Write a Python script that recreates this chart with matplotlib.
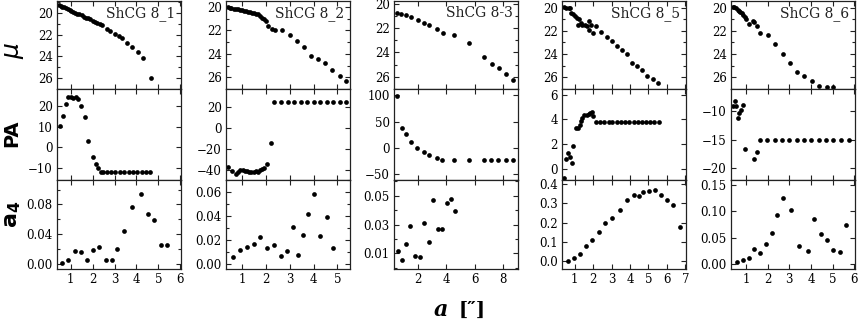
import matplotlib
matplotlib.use('Agg')
import matplotlib.pyplot as plt
from matplotlib.ticker import MultipleLocator, FixedLocator, FormatStrFormatter

# ---- data ----
names = ['ShCG 8_1', 'ShCG 8_2', 'ShCG 8-3', 'ShCG 8_5', 'ShCG 8_6']

# ShCG 8_1
a_mu1 = [0.47, 0.54, 0.62, 0.70, 0.78, 0.86, 0.95, 1.04, 1.13, 1.22, 1.31, 1.40, 1.50, 1.60, 1.70, 1.80,
         1.90, 2.00, 2.10, 2.20, 2.32, 2.45, 2.64, 2.80, 3.00, 3.20, 3.33, 3.58, 3.80, 4.06, 4.31, 4.68]
mu1 = [19.28, 19.34, 19.42, 19.49, 19.57, 19.64, 19.72, 19.81, 19.89, 19.97, 20.06, 20.14, 20.23, 20.33, 20.42, 20.51,
       20.60, 20.70, 20.79, 20.88, 21.00, 21.15, 21.45, 21.66, 21.90, 22.08, 22.32, 22.80, 23.11, 23.56, 24.19, 26.00]
a_pa1 = [0.51, 0.65, 0.77, 0.88, 1.00, 1.10, 1.24, 1.33, 1.49, 1.66, 1.81, 2.02, 2.16, 2.27, 2.37,
         2.48, 2.66, 2.84, 3.04, 3.24, 3.45, 3.64, 3.84, 4.03, 4.24, 4.44, 4.63]
pa1 = [10.2, 15.2, 21.0, 24.5, 24.2, 24.0, 24.5, 23.4, 20.2, 14.6, 2.9, -4.7, -8.2, -10.3, -12.0,
       -12.2, -12.2, -12.2, -12.2, -12.2, -12.2, -12.2, -12.2, -12.2, -12.2, -12.2, -12.2]
a_a41 = [0.60, 0.89, 1.18, 1.47, 1.75, 2.04, 2.31, 2.59, 2.88, 3.13, 3.45, 3.80, 4.22, 4.52, 4.81, 5.12, 5.41]
a41 = [0.0013, 0.0054, 0.0175, 0.0157, 0.0054, 0.0184, 0.0220, 0.0054, 0.0045, 0.0200, 0.0445, 0.0770,
       0.0935, 0.0665, 0.0584, 0.0260, 0.0260]

# ShCG 8_2
a_mu2 = [0.40, 0.48, 0.56, 0.65, 0.73, 0.82, 0.90, 0.99, 1.07, 1.15, 1.24, 1.32, 1.41, 1.49, 1.58, 1.66, 1.74,
         1.83, 1.91, 2.00, 2.08, 2.24, 2.38, 2.69, 3.00, 3.32, 3.60, 3.88, 4.17, 4.48, 4.79, 5.10, 5.38]
mu2 = [20.00, 20.06, 20.08, 20.14, 20.17, 20.20, 20.25, 20.28, 20.34, 20.36, 20.42, 20.45, 20.50, 20.53, 20.59,
       20.64, 20.78, 20.95, 21.06, 21.23, 21.59, 21.87, 21.93, 21.96, 22.37, 22.88, 23.46, 24.19, 24.47, 24.80,
       25.42, 25.87, 26.28]
a_pa2 = [0.41, 0.58, 0.75, 0.83, 0.93, 1.03, 1.11, 1.21, 1.31, 1.39, 1.49, 1.59, 1.67, 1.77, 1.86, 1.94, 2.05,
         2.22, 2.36, 2.63, 2.91, 3.18, 3.46, 3.74, 4.01, 4.29, 4.56, 4.83, 5.10, 5.38]
pa2 = [-36.5, -40.6, -42.9, -41.3, -40.0, -39.7, -40.3, -40.6, -41.0, -41.3, -41.0, -40.3, -41.0, -39.7, -39.0,
       -38.1, -34.3, -13.7, 24.4, 24.4, 24.4, 24.4, 24.4, 24.4, 24.4, 24.4, 24.4, 24.4, 24.4, 24.4]
a_a42 = [0.61, 0.92, 1.21, 1.49, 1.77, 2.05, 2.33, 2.62, 2.88, 3.12, 3.37, 3.54, 3.75, 4.03, 4.29, 4.57, 4.83]
a42 = [0.0058, 0.0117, 0.0147, 0.0167, 0.0228, 0.0139, 0.0158, 0.0069, 0.0108, 0.0308, 0.0078, 0.0247,
       0.0419, 0.0586, 0.0239, 0.0397, 0.0136]

# ShCG 8-3
a_mu3 = [0.55, 0.86, 1.18, 1.55, 2.00, 2.46, 2.82, 3.35, 3.75, 4.57, 5.60, 6.67, 7.19, 7.70, 8.21, 8.73]
mu3 = [20.76, 20.82, 20.93, 21.09, 21.28, 21.53, 21.69, 22.07, 22.37, 22.56, 23.24, 24.39, 24.93, 25.31, 25.80, 26.27]
a_pa3 = [0.55, 0.90, 1.18, 1.55, 1.98, 2.44, 2.82, 3.33, 3.73, 4.55, 5.60, 6.63, 7.16, 7.68, 8.21, 8.73]
pa3 = [99.0, 37.5, 26.7, 10.8, 0.0, -8.3, -12.7, -19.7, -22.2, -22.2, -22.2, -22.2, -22.2, -22.2, -22.2, -22.2]
a_a43 = [0.60, 0.88, 1.16, 1.49, 1.84, 2.19, 2.44, 2.82, 3.10, 3.40, 3.73, 4.03, 4.34, 4.64]
a43 = [0.0116, 0.0054, 0.0167, 0.0290, 0.0084, 0.0072, 0.0313, 0.0176, 0.0468, 0.0271, 0.0271, 0.0447,
       0.0477, 0.0394]

# ShCG 8_5
a_mu4 = [0.44, 0.55, 0.69, 0.76, 0.82, 0.93, 1.04, 1.15, 1.22, 1.20, 1.33, 1.42, 1.55, 1.64, 1.76, 1.78, 1.91,
         2.00, 2.13, 2.40, 2.73, 3.00, 3.31, 3.56, 3.82, 4.13, 4.36, 4.67, 4.95, 5.24, 5.51]
mu4 = [19.92, 20.06, 20.06, 20.00, 20.48, 20.54, 20.70, 20.90, 21.01, 21.46, 21.30, 21.46, 21.52, 21.63, 21.13,
       21.97, 21.49, 22.20, 21.61, 22.14, 22.54, 22.90, 23.30, 23.63, 24.00, 24.73, 25.01, 25.35, 25.86, 26.14, 26.48]
a_pa4 = [0.44, 0.51, 0.62, 0.73, 0.84, 0.93, 1.05, 1.18, 1.27, 1.33, 1.40, 1.51, 1.64, 1.75, 1.85, 1.93, 2.00,
         2.15, 2.38, 2.60, 2.84, 3.05, 3.29, 3.51, 3.75, 3.96, 4.20, 4.42, 4.65, 4.87, 5.11, 5.33, 5.56]
pa4 = [-0.76, 0.78, 1.27, 0.95, 0.51, 1.86, 3.30, 3.30, 3.57, 3.84, 4.11, 4.38, 4.38, 4.46, 4.51, 4.59, 4.24,
       3.78, 3.78, 3.78, 3.78, 3.78, 3.78, 3.78, 3.78, 3.78, 3.78, 3.78, 3.78, 3.78, 3.78, 3.78, 3.78]
a_a44 = [0.64, 0.96, 1.29, 1.60, 1.95, 2.31, 2.65, 3.02, 3.44, 3.85, 4.22, 4.47, 4.71, 5.02, 5.38, 5.69, 6.02,
         6.36, 6.69]
a44 = [0.002, 0.014, 0.035, 0.078, 0.108, 0.153, 0.197, 0.224, 0.266, 0.320, 0.344, 0.337, 0.358, 0.365, 0.372,
       0.344, 0.318, 0.290, 0.179]

# ShCG 8_6
a_mu5 = [0.38, 0.46, 0.52, 0.62, 0.68, 0.74, 0.80, 0.88, 0.95, 1.00, 1.15, 1.31, 1.38, 1.49, 1.65, 2.00, 2.35,
         2.69, 3.03, 3.37, 3.69, 4.06, 4.38, 4.72, 5.03]
mu5 = [19.94, 19.94, 20.00, 20.23, 20.34, 20.37, 20.51, 20.65, 20.85, 20.99, 21.41, 21.18, 21.27, 21.63, 22.17,
       22.39, 23.15, 24.00, 24.79, 25.55, 25.86, 26.34, 26.70, 26.85, 26.85]
a_pa5 = [0.38, 0.48, 0.54, 0.62, 0.69, 0.75, 0.85, 0.94, 1.37, 1.49, 1.65, 1.98, 2.32, 2.66, 3.00, 3.34, 3.68,
         4.02, 4.35, 4.69, 5.03, 5.40, 5.75]
pa5 = [-9.0, -8.1, -9.0, -11.2, -10.3, -9.7, -8.8, -16.6, -18.4, -17.1, -15.0, -15.0, -15.0, -15.0, -15.0,
       -15.0, -15.0, -15.0, -15.0, -15.0, -15.0, -15.0, -15.0]
a_a45 = [0.57, 0.85, 1.12, 1.38, 1.66, 1.94, 2.22, 2.45, 2.71, 3.06, 3.46, 3.85, 4.15, 4.45, 4.74, 5.03, 5.32, 5.62]
a45 = [0.0044, 0.0076, 0.0126, 0.0284, 0.0208, 0.0385, 0.0593, 0.0933, 0.1260, 0.1020, 0.0340, 0.0259, 0.0851,
       0.0567, 0.0454, 0.0277, 0.0227, 0.0744]

mu_data = [(a_mu1, mu1), (a_mu2, mu2), (a_mu3, mu3), (a_mu4, mu4), (a_mu5, mu5)]
pa_data = [(a_pa1, pa1), (a_pa2, pa2), (a_pa3, pa3), (a_pa4, pa4), (a_pa5, pa5)]
a4_data = [(a_a41, a41), (a_a42, a42), (a_a43, a43), (a_a44, a44), (a_a45, a45)]

# ---- axis setup per column ----
xlims = [(0.38, 6.03), (0.33, 5.53), (0.34, 9.05), (0.31, 7.04), (0.31, 6.03)]
xstep = [1, 1, 2, 1, 1]
mu_lims = [(27.0, 18.9), (27.0, 19.5), (27.03, 19.73), (27.0, 19.44), (27.0, 19.44)]
pa_lims = [(-16, 28.3), (-49, 37), (-61, 112), (-0.89, 6.46), (-22.06, -6.06)]
pa_step = [10, 20, 50, 2, 5]
a4_lims = [(-0.007, 0.113), (-0.0039, 0.0703), (-0.0009, 0.0609), (-0.042, 0.4226), (-0.0088, 0.1595)]
a4_step = [0.04, 0.02, 0.02, 0.1, 0.05]
a4_minor = [0.02, 0.01, 0.01, 0.1, 0.05]
a4_fmt = ['%.2f', '%.2f', '%.2f', '%.1f', '%.2f']

plt.rcParams['font.family'] = 'DejaVu Serif'
plt.rcParams['axes.unicode_minus'] = True

W, H = 858.0, 323.0
fig = plt.figure(figsize=(W / 100, H / 100), dpi=100)
lefts = [57, 226, 394, 562, 731]
pw = 124
rows = [(1, 89), (89, 180), (180, 269)]
edge = '#222222'


def style(ax, i):
    ax.set_xlim(*xlims[i])
    ax.xaxis.set_major_locator(MultipleLocator(xstep[i]))
    ax.tick_params(which='both', direction='in', top=True, right=True, labelsize=8.5,
                   color=edge, width=0.8, pad=3)
    ax.tick_params(which='major', length=3.5)
    ax.tick_params(which='minor', length=2)
    for s in ax.spines.values():
        s.set_color(edge)
        s.set_linewidth(0.9)


for i in range(5):
    axes = []
    for r, (t, b) in enumerate(rows):
        ax = fig.add_axes([lefts[i] / W, (H - b) / H, pw / W, (b - t) / H])
        style(ax, i)
        axes.append(ax)
    ax_mu, ax_pa, ax_a4 = axes

    x, y = mu_data[i]
    ax_mu.plot(x, y, 'o', color='black', ms=3.4, mec='none')
    ax_mu.set_ylim(*mu_lims[i])
    ax_mu.yaxis.set_major_locator(MultipleLocator(2))
    ax_mu.yaxis.set_minor_locator(MultipleLocator(1))
    ax_mu.tick_params(labelbottom=False)
    ax_mu.text(0.955, 0.94, names[i], transform=ax_mu.transAxes, ha='right', va='top',
               fontsize=10, color='#222222')

    x, y = pa_data[i]
    ax_pa.plot(x, y, 'o', color='black', ms=3.4, mec='none')
    ax_pa.set_ylim(*pa_lims[i])
    ax_pa.yaxis.set_major_locator(MultipleLocator(pa_step[i]))
    ax_pa.tick_params(labelbottom=False)

    x, y = a4_data[i]
    ax_a4.plot(x, y, 'o', color='black', ms=3.4, mec='none')
    ax_a4.set_ylim(*a4_lims[i])
    if i == 2:
        ax_a4.yaxis.set_major_locator(FixedLocator([0.01, 0.03, 0.05]))
        ax_a4.yaxis.set_minor_locator(FixedLocator([0.0, 0.02, 0.04, 0.06]))
    else:
        ax_a4.yaxis.set_major_locator(MultipleLocator(a4_step[i]))
        ax_a4.yaxis.set_minor_locator(MultipleLocator(a4_minor[i]))
    ax_a4.yaxis.set_major_formatter(FormatStrFormatter(a4_fmt[i]))

# row labels and x label
fig.text(14 / W, 1 - 50 / H, r'$\mu$', fontsize=18, rotation=90, ha='center', va='center')
fig.text(12 / W, 1 - 133 / H, 'PA', fontsize=14, fontweight='bold', family='DejaVu Sans',
         rotation=90, ha='center', va='center')
fig.text(12 / W, 1 - 214 / H, r'$\mathbf{a_4}$', fontsize=16, rotation=90, ha='center', va='center')
fig.text(441 / W, 1 - 310 / H, 'a', fontsize=16, fontweight='bold', fontstyle='italic',
         ha='center', va='center')
fig.text(472 / W, 1 - 310 / H, '[″]', fontsize=14, fontweight='bold', ha='center', va='center')

fig.savefig('out.png', dpi=100)
